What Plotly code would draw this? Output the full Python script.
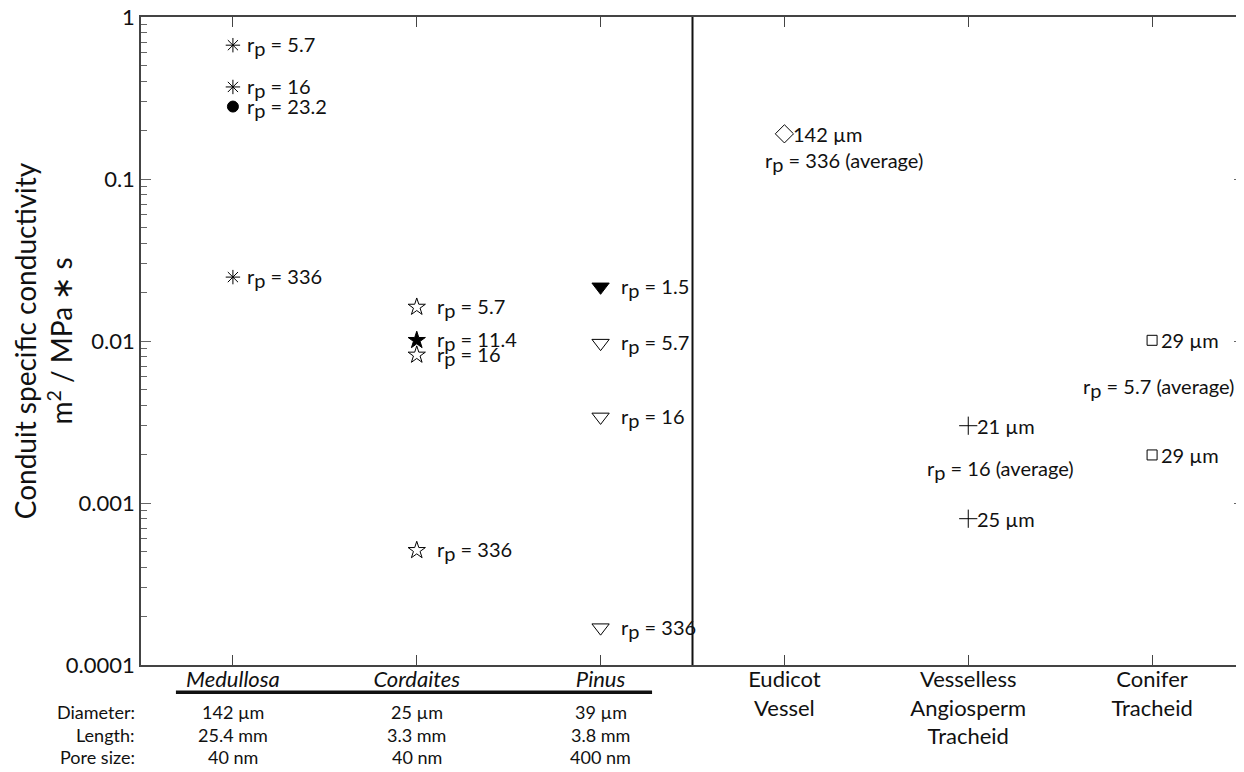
import plotly.graph_objects as go
import math

FONT = "Lato"
FS = 20

categories = ["<i>Medullosa</i>", "<i>Cordaites</i>", "<i>Pinus</i>",
              "Eudicot<br>Vessel", "Vesselless<br>Angiosperm<br>Tracheid", "Conifer<br>Tracheid"]

# fossil series: (category index, values, labels)
medullosa_vals = [0.67, 0.37, 0.28, 0.0248]
medullosa_rp = ["5.7", "16", "23.2", "336"]
medullosa_sym = ["asterisk-open", "asterisk-open", "circle", "asterisk-open"]

cordaites_vals = [0.0162, 0.0101, 0.0082, 0.00051]
cordaites_rp = ["5.7", "11.4", "16", "336"]
cordaites_sym = ["star-open", "star", "star-open", "star-open"]

pinus_vals = [0.0216, 0.0097, 0.0034, 0.00017]
pinus_rp = ["1.5", "5.7", "16", "336"]
pinus_sym = ["triangle-down", "triangle-down-open", "triangle-down-open", "triangle-down-open"]

eudicot_vals = [0.19]
eudicot_diam = ["142 µm"]
eudicot_avg = "336"

vesselless_vals = [0.0030, 0.0008]
vesselless_diam = ["21 µm", "25 µm"]
vesselless_avg = "16"

conifer_vals = [0.0101, 0.00198]
conifer_diam = ["29 µm", "29 µm"]
conifer_avg = "5.7"

row_labels = ["Diameter:", "Length:", "Pore size:"]
diameters = ["142 µm", "25 µm", "39 µm"]
lengths = ["25.4 mm", "3.3 mm", "3.8 mm"]
pore_sizes = ["40 nm", "40 nm", "400 nm"]

ytick_vals = [0.0001, 0.001, 0.01, 0.1, 1]
ytick_text = ["0.0001", "0.001", "0.01", "0.1", "1"]


def rp(v, extra=""):
    return f"r<sub><span style='font-size:{FS}px'>p</span></sub> = {v}{extra}"


fig = go.Figure()
annotations = []


def sym_size(s):
    if s.startswith("asterisk"):
        return 12
    if s == "circle":
        return 11
    if s.startswith("star"):
        return 13
    if s.startswith("triangle"):
        return 15
    return 12


fossils = [(0, medullosa_vals, medullosa_rp, medullosa_sym, 12),
           (1, cordaites_vals, cordaites_rp, cordaites_sym, 18),
           (2, pinus_vals, pinus_rp, pinus_sym, 18)]
for ci, vals, rps, syms, xs in fossils:
    fig.add_trace(go.Scatter(
        x=[ci] * len(vals), y=vals, mode="markers", opacity=1,
        marker=dict(symbol=syms, size=[sym_size(s) for s in syms], color="#000",
                    opacity=1, line=dict(color="#000", width=1)),
        showlegend=False, hoverinfo="skip"))
    for v, r in zip(vals, rps):
        annotations.append(dict(x=ci, y=math.log10(v), xref="x", yref="y",
                                text=rp(r), showarrow=False,
                                xanchor="left", yanchor="middle", xshift=xs, yshift=-1,
                                font=dict(family=FONT, size=FS, color="#111")))

modern = [(3, eudicot_vals, eudicot_diam, "diamond-open", 14),
          (4, vesselless_vals, vesselless_diam, "cross-thin-open", 13),
          (5, conifer_vals, conifer_diam, "square-open", 10)]
for ci, vals, diams, sym, sz in modern:
    fig.add_trace(go.Scatter(
        x=[ci] * len(vals), y=vals, mode="markers", opacity=1,
        marker=dict(symbol=sym, size=sz, color="#000", line=dict(color="#000", width=1)),
        showlegend=False, hoverinfo="skip"))
    for v, d in zip(vals, diams):
        annotations.append(dict(x=ci, y=math.log10(v), xref="x", yref="y",
                                text=d, showarrow=False, xanchor="left", yanchor="middle",
                                xshift=7, yshift=0,
                                font=dict(family=FONT, size=FS, color="#111")))

# average labels
annotations.append(dict(x=3, y=math.log10(eudicot_vals[0]), xref="x", yref="y",
                        text=rp(eudicot_avg, " (average)"), showarrow=False,
                        xanchor="left", yanchor="middle", xshift=-21, yshift=-28,
                        font=dict(family=FONT, size=FS, color="#111")))
vm = (math.log10(vesselless_vals[0]) + math.log10(vesselless_vals[1])) / 2
annotations.append(dict(x=4, y=vm, xref="x", yref="y",
                        text=rp(vesselless_avg, " (average)"), showarrow=False,
                        xanchor="center", yanchor="middle", xshift=32, yshift=2,
                        font=dict(family=FONT, size=FS, color="#111")))
cm = (math.log10(conifer_vals[0]) + math.log10(conifer_vals[1])) / 2
annotations.append(dict(x=5, y=cm, xref="x", yref="y",
                        text=rp(conifer_avg, " (average)"), showarrow=False,
                        xanchor="right", yanchor="middle", xshift=84, yshift=10,
                        font=dict(family=FONT, size=FS, color="#111")))

# table under fossil categories
row_y = [-0.073, -0.108, -0.142]
for ry, lab in zip(row_y, row_labels):
    annotations.append(dict(x=0, y=ry, xref="paper", yref="paper", text=lab,
                            showarrow=False, xanchor="right", yanchor="middle", xshift=-4,
                            font=dict(family=FONT, size=18, color="#111")))
for ci in range(3):
    for ry, vals in zip(row_y, [diameters, lengths, pore_sizes]):
        annotations.append(dict(x=ci, y=ry, xref="x", yref="paper", text=vals[ci],
                                showarrow=False, xanchor="center", yanchor="middle",
                                font=dict(family=FONT, size=18, color="#111")))

shapes = [
    dict(type="line", xref="x", yref="paper", x0=2.5, x1=2.5, y0=0, y1=1,
         line=dict(color="#111", width=2)),
    dict(type="line", xref="x", yref="paper", x0=-0.31, x1=2.28, y0=-0.042, y1=-0.042,
         line=dict(color="#111", width=3.5)),
]

# page body has an 8px default margin, so the figure is sized to fit the window
fig.update_layout(
    width=1236, height=764,
    margin=dict(l=133, r=0, t=9, b=107),
    paper_bgcolor="white", plot_bgcolor="white",
    font=dict(family=FONT, color="#111"),
    annotations=annotations, shapes=shapes,
    xaxis=dict(range=[-0.5, 5.5], tickmode="array", tickvals=list(range(6)),
               ticktext=categories, ticks="inside", ticklen=10, tickcolor="#444",
               showline=True, linecolor="#444", linewidth=1.5, mirror="ticks",
               showgrid=False, zeroline=False, automargin=False,
               ticklabelstandoff=-6,
               tickfont=dict(family=FONT, size=22, color="#111")),
    yaxis=dict(type="log", range=[-4, 0], tickvals=ytick_vals, ticktext=ytick_text,
               ticks="inside", ticklen=10, tickcolor="#666",
               showline=True, linecolor="#444", linewidth=1.5, mirror="ticks",
               showgrid=False, zeroline=False, automargin=False,
               ticklabeloverflow="allow",
               minor=dict(ticks="inside", ticklen=6, tickcolor="#666", showgrid=False,
                          dtick="D1"),
               tickfont=dict(family=FONT, size=22, color="#111"),
               title=dict(text="Conduit specific conductivity<br>m<sup>2</sup> / MPa ∗ s",
                          font=dict(family=FONT, size=28, color="#111"), standoff=20)),
)

fig.write_html("out.html")
